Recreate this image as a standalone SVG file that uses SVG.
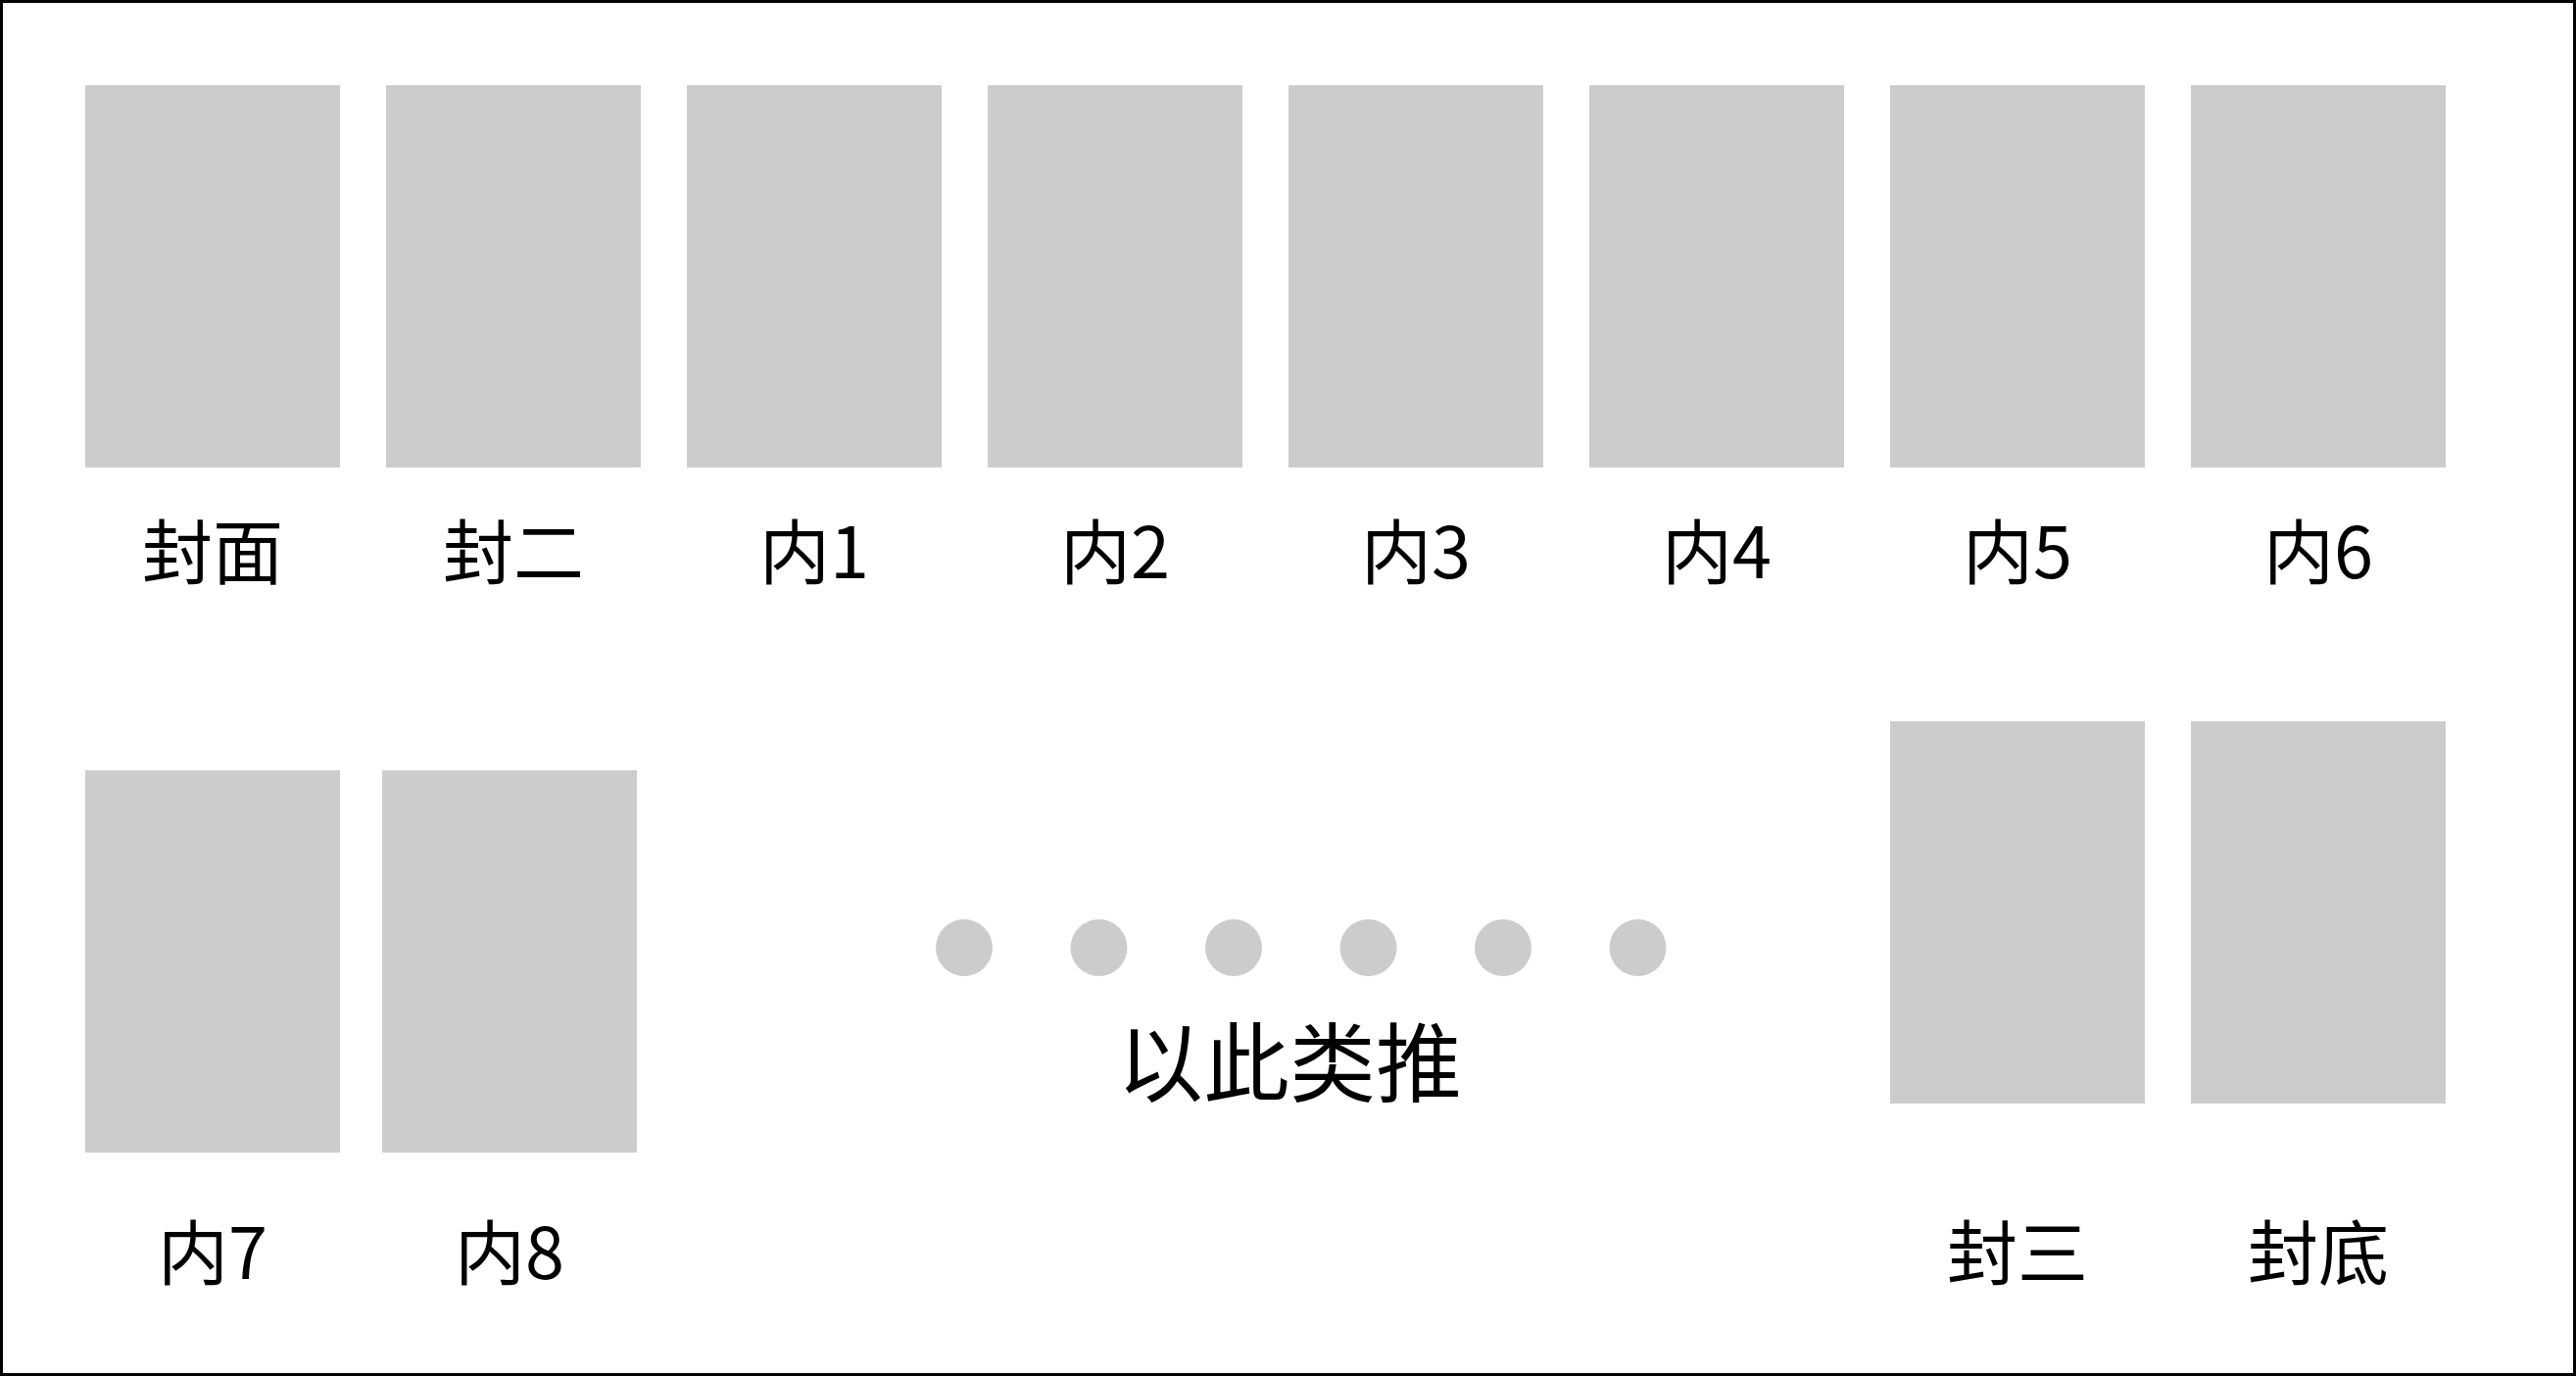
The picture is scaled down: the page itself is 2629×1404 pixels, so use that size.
<svg xmlns="http://www.w3.org/2000/svg" width="2629" height="1404" viewBox="0 0 2629 1404">
<style>
.pg{fill:#cccccc}
.dot{fill:#cccccc}
.lb{font-family:"Noto Sans CJK SC","Noto Sans",sans-serif;font-size:72px;fill:#000;text-anchor:middle}
.big{font-family:"Noto Sans CJK SC","Noto Sans",sans-serif;font-size:88px;fill:#000;text-anchor:middle}
</style>
<rect x="0" y="0" width="2629" height="1404" fill="#ffffff"/>
<rect x="1.5" y="1.5" width="2626" height="1401" fill="none" stroke="#000" stroke-width="3"/>
<g id="n-fengmian"><rect class="pg" x="87" y="87" width="260" height="390"/><text class="lb" x="217" y="590">封面</text></g>
<g id="n-feng2"><rect class="pg" x="394" y="87" width="260" height="390"/><text class="lb" x="524" y="590">封二</text></g>
<g id="n-nei1"><rect class="pg" x="701" y="87" width="260" height="390"/><text class="lb" x="831" y="590">内1</text></g>
<g id="n-nei2"><rect class="pg" x="1008" y="87" width="260" height="390"/><text class="lb" x="1138" y="590">内2</text></g>
<g id="n-nei3"><rect class="pg" x="1315" y="87" width="260" height="390"/><text class="lb" x="1445" y="590">内3</text></g>
<g id="n-nei4"><rect class="pg" x="1622" y="87" width="260" height="390"/><text class="lb" x="1752" y="590">内4</text></g>
<g id="n-nei5"><rect class="pg" x="1929" y="87" width="260" height="390"/><text class="lb" x="2059" y="590">内5</text></g>
<g id="n-nei6"><rect class="pg" x="2236" y="87" width="260" height="390"/><text class="lb" x="2366" y="590">内6</text></g>
<g id="n-nei7"><rect class="pg" x="87" y="786" width="260" height="390"/><text class="lb" x="217" y="1305">内7</text></g>
<g id="n-nei8"><rect class="pg" x="390" y="786" width="260" height="390"/><text class="lb" x="520" y="1305">内8</text></g>
<g id="n-feng3"><rect class="pg" x="1929" y="736" width="260" height="390"/><text class="lb" x="2059" y="1305">封三</text></g>
<g id="n-fengdi"><rect class="pg" x="2236" y="736" width="260" height="390"/><text class="lb" x="2366" y="1305">封底</text></g>
<g id="n-etc">
<circle class="dot" cx="984" cy="967" r="29"/>
<circle class="dot" cx="1121.5" cy="967" r="29"/>
<circle class="dot" cx="1259" cy="967" r="29"/>
<circle class="dot" cx="1396.5" cy="967" r="29"/>
<circle class="dot" cx="1534" cy="967" r="29"/>
<circle class="dot" cx="1671.5" cy="967" r="29"/>
<text class="big" x="1316" y="1117">以此类推</text>
</g>
<g id="connectors"/>
</svg>
